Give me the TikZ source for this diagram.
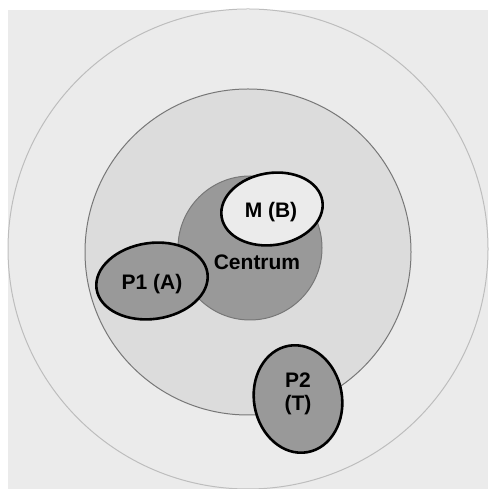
\documentclass[tikz,border=0pt]{standalone}
\usepackage{fontspec}
\setmainfont{Liberation Sans}
\usetikzlibrary{positioning}
\definecolor{bgfill}{HTML}{EBEBEB}
\definecolor{midfill}{HTML}{DCDCDC}
\definecolor{corefill}{HTML}{999999}
\definecolor{outline}{HTML}{777777}
\definecolor{faint}{HTML}{BDBDBD}
\begin{document}
\begin{tikzpicture}[
  x=1pt,y=1pt,
  ring/.style={draw=outline,line width=1pt},
  blob/.style={draw=black,line width=2.6pt},
  lbl/.style={font=\fontsize{21}{23}\selectfont\bfseries,align=center,inner sep=0pt}]
\useasboundingbox (0,0) rectangle (488,489);
\fill[bgfill] (8,0) rectangle (488,479);
\draw[faint,line width=1pt] (248,240) circle (240);
\draw[ring,fill=midfill] (248,237) circle (163);
\draw[ring,fill=corefill] (250,241) circle (72);
\draw[blob,fill=bgfill,rotate around={9:(272,280)}] (272,280) ellipse (51 and 36);
\draw[blob,fill=corefill,rotate around={8:(152,208)}] (152,208) ellipse (56 and 38);
\draw[blob,fill=corefill,rotate around={10:(298,90)}] (298,90) ellipse (44 and 54);
\node[lbl] (mb) at (271,277) {M (B)};
\node[lbl] (centrum) at (257,227) {Centrum};
\node[lbl] (p1) at (152,205) {P1 (A)};
\node[lbl] (p2) at (298,95) {P2\\(T)};
\end{tikzpicture}
\end{document}
